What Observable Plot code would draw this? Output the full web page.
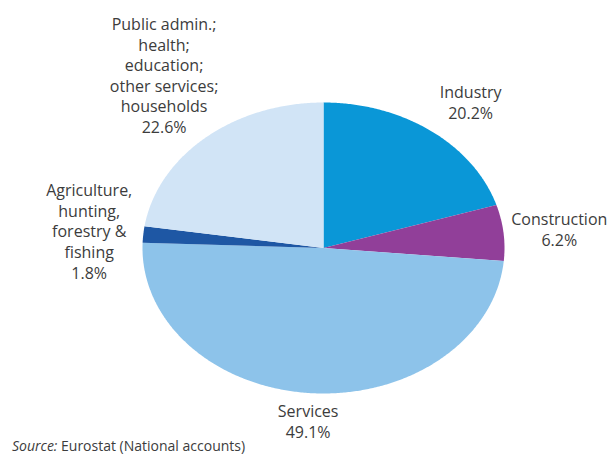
<!DOCTYPE html>
<html>
<head>
<meta charset="utf-8">
<script src="https://cdn.jsdelivr.net/npm/d3@7"></script>
<script src="https://cdn.jsdelivr.net/npm/@observablehq/plot@0.6"></script>
<style>
  body { margin: 0; background: #fff; font-family: "Open Sans", sans-serif; }
  #wrap { width: 611px; height: 455px; position: relative; overflow: hidden; }
  #caption { position: absolute; left: 12px; top: 438px; font-size: 14px; line-height: 16px; color: #3c3c3c; white-space: nowrap; }
</style>
</head>
<body>
<div id="wrap">
  <div id="chart"></div>
  <div id="caption"><i>Source:</i> Eurostat (National accounts)</div>
</div>
<script>
// ---- data ----
const categories = ["Industry", "Construction", "Services", "Agriculture, hunting, forestry & fishing", "Public admin.; health; education; other services; households"];
const labelText = ["Industry", "Construction", "Services", "Agriculture,\nhunting,\nforestry &\nfishing", "Public admin.;\nhealth;\neducation;\nother services;\nhouseholds"];
const shares = [20.2, 6.2, 49.1, 1.8, 22.6];
const colors = ["#0a97d7", "#913f99", "#8dc3ea", "#1e57a4", "#d1e4f6"];

// ---- geometry (derived from the data) ----
const pie = d3.pie().sort(null).value((d, i) => shares[i]);
const arcs = pie(categories);

const slicePoints = [];
arcs.forEach((a, i) => {
  const cat = categories[i];
  slicePoints.push({cat, x: 0, y: 0});
  const steps = Math.max(2, Math.ceil((a.endAngle - a.startAngle) / (Math.PI / 360)));
  for (let s = 0; s <= steps; s++) {
    const t = a.startAngle + (a.endAngle - a.startAngle) * s / steps;
    slicePoints.push({cat, x: Math.sin(t), y: Math.cos(t)});
  }
  slicePoints.push({cat, x: 0, y: 0});
});

// label layout: radial factors (x, y) relative to mid angle
const labelFactor = [[1.37, 1.25], [1.31, 1.25], [1.35, 1.19], [1.30, 1.27], [1.35, 1.57]];
const labels = arcs.map((a, i) => {
  const m = (a.startAngle + a.endAngle) / 2;
  return {
    x: Math.sin(m) * labelFactor[i][0],
    y: Math.cos(m) * labelFactor[i][1],
    text: labelText[i] + "\n" + shares[i].toFixed(1) + "%"
  };
});

const chart = Plot.plot({
  width: 611,
  height: 455,
  margin: 0,
  x: {domain: [-1, 1], range: [142, 504], axis: null},
  y: {domain: [-1, 1], range: [393, 102], axis: null},
  color: {domain: categories, range: colors},
  style: {fontFamily: "Open Sans, sans-serif", background: "white"},
  marks: [
    Plot.line(slicePoints, {x: "x", y: "y", z: "cat", fill: "cat", stroke: "none", curve: "linear"}),
    Plot.text(labels, {x: "x", y: "y", text: "text", fontSize: 16, lineHeight: 1.29, fill: "#3c3c3c", textAnchor: "middle", lineAnchor: "middle"})
  ]
});
document.getElementById("chart").appendChild(chart);
</script>
</body>
</html>
